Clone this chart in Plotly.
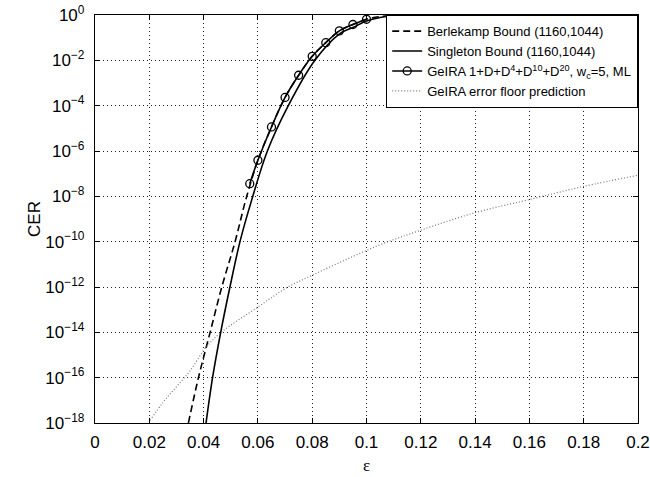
import plotly.graph_objects as go

# ---- data ----
berlekamp_eps = [0.0344, 0.0381, 0.0424, 0.0467, 0.0516, 0.0555, 0.060, 0.065, 0.070,
                 0.075, 0.080, 0.085, 0.090, 0.095, 0.100, 0.105, 0.110, 0.120, 0.200]
berlekamp_cer = [1e-18, 1e-16, 1e-14, 1e-12, 1e-10, 6.8e-9, 3.9e-7, 1.15e-5, 2.3e-4,
                 2.2e-3, 1.5e-2, 6.0e-2, 0.20, 0.38, 0.65, 0.85, 0.95, 1.0, 1.0]

singleton_eps = [0.0409, 0.0433, 0.0463, 0.0497, 0.0534, 0.0577, 0.0635, 0.0712, 0.081,
                 0.0902, 0.095, 0.100, 0.105, 0.110, 0.120, 0.200]
singleton_cer = [1e-18, 1e-16, 1e-14, 1e-12, 1e-10, 6.8e-9, 1e-6, 1e-4, 1e-2,
                 0.15, 0.28, 0.55, 0.78, 0.92, 1.0, 1.0]

geira_eps = [0.057, 0.060, 0.065, 0.070, 0.075, 0.080, 0.085, 0.090, 0.095, 0.100]
geira_cer = [3.6e-8, 3.9e-7, 1.15e-5, 2.3e-4, 2.2e-3, 1.5e-2, 6.0e-2, 0.20, 0.38, 0.65]

floor_eps = [0.0203, 0.025, 0.030, 0.035, 0.0409, 0.0467, 0.060, 0.0706, 0.080, 0.0933,
             0.1056, 0.120, 0.140, 0.160, 0.180, 0.200]
floor_cer = [1.3e-18, 8e-18, 4e-17, 2e-16, 2.2e-15, 1.05e-14, 1.3e-13, 9.3e-13, 3.3e-12,
             1.8e-11, 7.8e-11, 3.2e-10, 1.9e-9, 7.2e-9, 2.75e-8, 8.5e-8]

x_ticks = [0, 0.02, 0.04, 0.06, 0.08, 0.1, 0.12, 0.14, 0.16, 0.18, 0.2]
x_labels = ["0", "0.02", "0.04", "0.06", "0.08", "0.1", "0.12", "0.14", "0.16", "0.18", "0.2"]
y_exps = [0, -2, -4, -6, -8, -10, -12, -14, -16, -18]

FONT = "Liberation Sans, Arial, Helvetica, sans-serif"

fig = go.Figure()
fig.add_trace(go.Scatter(x=berlekamp_eps, y=berlekamp_cer, mode="lines",
                         name="Berlekamp Bound (1160,1044)",
                         line=dict(color="black", width=1.6, dash="7px,4px"), line_shape="spline"))
fig.add_trace(go.Scatter(x=singleton_eps, y=singleton_cer, mode="lines",
                         name="Singleton Bound (1160,1044)",
                         line=dict(color="black", width=1.6), line_shape="spline"))
fig.add_trace(go.Scatter(x=geira_eps, y=geira_cer, mode="lines+markers",
                         name="GeIRA 1+D+D<sup>4</sup>+D<sup>10</sup>+D<sup>20</sup>, w<sub>c</sub>=5, ML",
                         line=dict(color="black", width=1.6), line_shape="spline",
                         marker=dict(symbol="circle-open", size=8, color="black",
                                     line=dict(width=1.3, color="black"))))
fig.add_trace(go.Scatter(x=floor_eps, y=floor_cer, mode="lines",
                         name="GeIRA error floor prediction",
                         line=dict(color="#777777", width=1.2, dash="1px,2px"), line_shape="spline"))

fig.update_layout(
    width=650, height=477,
    margin=dict(l=95, r=12, t=15, b=54, autoexpand=False),
    paper_bgcolor="white", plot_bgcolor="white",
    font=dict(family=FONT, size=17, color="black"),
    showlegend=True,
    legend=dict(x=1, y=1, xanchor="right", yanchor="top",
                bgcolor="white", bordercolor="black", borderwidth=1.2,
                font=dict(size=13, family=FONT), itemwidth=30,
                tracegroupgap=0),
)
fig.update_xaxes(
    range=[0, 0.2], tickvals=x_ticks, ticktext=x_labels,
    showline=True, linecolor="black", linewidth=1.3, mirror="ticks",
    ticks="inside", ticklen=5, tickcolor="black", automargin=False,
    tickfont=dict(size=17), ticklabelstandoff=3,
    showgrid=True, gridcolor="#222222", griddash="1px,3px", gridwidth=1,
    zeroline=False,
    title=dict(text="ε", font=dict(family="Liberation Serif, Times New Roman, serif", size=17), standoff=8),
)
fig.update_yaxes(
    type="log", range=[-18, 0],
    tickvals=[10.0 ** e for e in y_exps],
    ticktext=["10<sup>%s</sup>" % (str(e).replace("-", "−")) for e in y_exps],
    showline=True, linecolor="black", linewidth=1.3, mirror="ticks",
    ticks="inside", ticklen=5, tickcolor="black", automargin=False,
    tickfont=dict(size=17), ticklabelstandoff=6,
    showgrid=True, gridcolor="#222222", griddash="1px,3px", gridwidth=1,
    zeroline=False,
    title=dict(text="CER", font=dict(size=17), standoff=0),
)

fig.write_html("out.html")
